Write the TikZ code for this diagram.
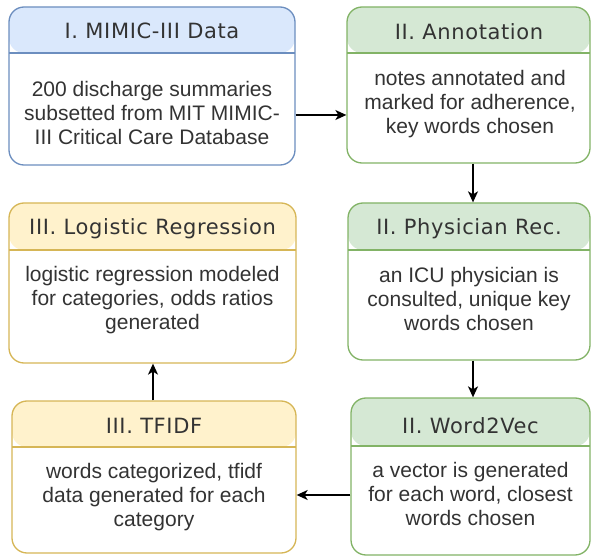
\documentclass[tikz,border=0pt]{standalone}
\usepackage{fontspec}
\setmainfont{Liberation Sans}
\newfontfamily\titlefont[LetterSpace=3]{DejaVu Sans}
\usetikzlibrary{arrows.meta}
\definecolor{bluefill}{HTML}{DAE8FC}
\definecolor{blueline}{HTML}{6C8EBF}
\definecolor{greenfill}{HTML}{D5E8D4}
\definecolor{greenline}{HTML}{82B366}
\definecolor{yellowfill}{HTML}{FFF2CC}
\definecolor{yellowline}{HTML}{D6B656}
\definecolor{txt}{HTML}{333333}
\newcommand{\firstln}{\rule{0pt}{16pt}}
\tikzset{
  card/.style 2 args={draw=#1line, fill=white, rounded corners=15pt, line width=1.3pt,
    inner sep=0pt,
    path picture={
      \fill[#1fill] (path picture bounding box.north west) rectangle ([yshift=-#2pt]path picture bounding box.north east);
      \draw[#1line, line width=1.3pt] ([yshift=-#2pt]path picture bounding box.north west) -- ([yshift=-#2pt]path picture bounding box.north east);
    }},
  cardtitle/.style={anchor=base, inner sep=0pt, text=txt, font=\titlefont\fontsize{21}{24}\selectfont},
  cardbody/.style={anchor=north, align=center, inner sep=0pt, text=txt, font=\fontsize{21}{24}\selectfont},
  arr/.style={line width=1.4pt, -{Stealth[length=11pt,width=10pt,inset=3pt]}}
}
\begin{document}
\begin{tikzpicture}[x=1pt,y=-1pt]
\useasboundingbox (0,0) rectangle (592,556);
% boxes
\node[card={blue}{46}, minimum width=286pt, minimum height=158pt] (b1) at (152,86) {};
\node[card={green}{46}, minimum width=243pt, minimum height=156pt] (b2) at (468.5,85) {};
\node[card={yellow}{47}, minimum width=287pt, minimum height=160pt] (b3) at (152.5,283) {};
\node[card={green}{47}, minimum width=242pt, minimum height=157pt] (b4) at (469,281.5) {};
\node[card={yellow}{46}, minimum width=284pt, minimum height=152pt] (b5) at (154,477) {};
\node[card={green}{48}, minimum width=239pt, minimum height=157pt] (b6) at (470.5,476.5) {};
% titles
\node[cardtitle] (t1) at (152,39) {I. MIMIC-III Data};
\node[cardtitle] (t2) at (469,39.5) {II. Annotation};
\node[cardtitle] (t3) at (152.5,235) {III. Logistic Regression};
\node[cardtitle] (t4) at (469,235) {II. Physician Rec.};
\node[cardtitle] (t5) at (154,433) {III. TFIDF};
\node[cardtitle] (t6) at (470.5,433) {II. Word2Vec};
% bodies
\node[cardbody] (d1) at (152,80) {\firstln 200 discharge summaries\\subsetted from MIT MIMIC-\\III Critical Care Database};
\node[cardbody] (d2) at (470,69) {\firstln notes annotated and\\marked for adherence,\\key words chosen};
\node[cardbody] (d3) at (152.5,265) {\firstln logistic regression modeled\\for categories, odds ratios\\generated};
\node[cardbody] (d4) at (469,266) {\firstln an ICU physician is\\consulted, unique key\\words chosen};
\node[cardbody] (d5) at (154,462) {\firstln words categorized, tfidf\\data generated for each\\category};
\node[cardbody] (d6) at (470.5,461) {\firstln a vector is generated\\for each word, closest\\words chosen};
% connectors
\draw[arr] ([yshift=-29pt]b1.east) -- ([yshift=-29pt]b1.east -| b2.west);
\draw[arr] ([xshift=4.5pt]b2.south) -- ([xshift=4.5pt]b2.south |- b4.north);
\draw[arr] ([xshift=4pt]b4.south) -- ([xshift=4pt]b4.south |- b6.north);
\draw[arr] ([yshift=-18.5pt]b6.west) -- ([yshift=-18.5pt]b6.west -| b5.east);
\draw[arr] ([xshift=-1pt]b5.north) -- ([xshift=-1pt]b5.north |- b3.south);
\end{tikzpicture}
\end{document}
